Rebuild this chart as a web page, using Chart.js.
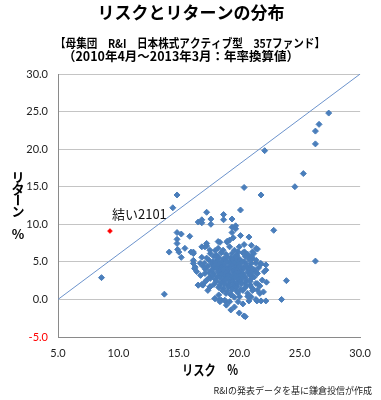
<!DOCTYPE html>
<html><head><meta charset="utf-8">
<script src="https://cdn.jsdelivr.net/npm/chart.js@4/dist/chart.umd.min.js"></script>
<style>html,body{margin:0;padding:0;background:#fff}#wrap{width:381px;height:400px;position:relative}</style>
</head><body><div id="wrap"><canvas id="c" width="381" height="400"></canvas></div>
<script>
const chartTitle = 'リスクとリターンの分布';
const subtitleLines = ['【母集団　R&I　日本株式アクティブ型　357ファンド】', '（2010年4月～2013年3月：年率換算値）'];
const xTitle = 'リスク　%';
const yTitleChars = ['リ', 'タ', 'ー', 'ン', '%'];
const sourceNote = 'R&Iの発表データを基に鎌倉投信が作成';
const yuiLabel = '結い2101';
const yuiRisk = [9.3];
const yuiReturn = [9.1];
const refLineRisk = [5, 30];
const refLineReturn = [0, 30];
const xTicks = [5, 10, 15, 20, 25, 30];
const yTicks = [-5, 0, 5, 10, 15, 20, 25, 30];

// [risk %, return %]
const fundOutliers = [
  [8.6,2.9],[13.8,0.7],[14.2,6.3],[14.5,12.2],[14.85,13.9],[14.85,8.9],[15.2,8.7],[14.85,8.0],
  [14.85,7.45],[14.9,6.65],[15.9,8.4],[15.5,6.8],[16.0,6.3],[16.2,6.3],[15.2,5.6],[15.0,6.3],
  [16.2,4.8],[16.3,4.1],[16.6,1.9],[16.9,2.0],[17.6,1.7],[18.0,0.1],[18.4,-0.3],[18.5,-0.1],
  [18.9,-0.3],[19.3,-1.4],[20.0,-1.8],[20.4,-2.2],[20.5,-2.3],[20.8,-0.2],[21.46,-0.2],[21.8,-0.2],
  [22.2,-0.2],[21.7,0.8],[21.1,1.2],[21.5,2.1],[22.25,2.3],[22.06,3.7],[21.1,3.0],[22.2,4.6],
  [21.8,4.7],[21.0,5.7],[21.2,6.1],[21.5,6.7],[23.9,2.5],[23.5,0.0],[26.3,5.1],[22.85,9.2],
  [20.1,11.9],[17.3,11.6],[18.7,11.3],[18.7,10.6],[19.4,10.7],[17.65,10.7],[16.9,10.6],[16.6,10.3],
  [16.9,10.2],[17.65,10.0],[19.4,9.6],[19.7,9.8],[19.4,8.9],[19.7,9.4],[20.1,8.5],[20.8,8.3],
  [20.4,7.3],[19.0,7.6],[18.4,7.6],[17.3,7.1],[16.9,7.0],[17.3,7.45],[20.4,14.9],[21.8,13.9],
  [22.1,19.8],[24.6,15.0],[25.3,16.75],[26.3,20.7],[26.3,22.4],[26.6,23.3],[27.4,24.8],
  [19.5,8.2],[19.2,7.9],[18.25,7.7],[19.0,7.75],[17.16,7.0],[17.57,6.55],[18.25,6.8],[18.66,6.55],
  [19.2,7.0],[19.6,6.55],[19.9,6.33],[20.43,6.33],[21.1,6.33],[21.4,6.8],
  [16.2,6.1],[16.2,5.2],[16.35,4.3],[16.76,4.8],[16.48,3.7],
  [21.1,5.45],[21.38,4.8],[21.78,4.8],[22.2,3.9],[21.5,3.46],[21.25,3.0],[21.9,2.57],[21.38,2.13],
  [21.1,1.46],[21.5,1.24],[21.38,0.0],[20.97,0.35],[20.7,0.8],
  [17.98,0.13],[18.39,-0.1],[18.8,-0.1],[19.2,-0.3],[19.33,0.57],[19.9,-0.3],[20.02,0.35],[19.6,-1.0],[18.93,-0.76],
  [16.6,1.9],[17.0,1.9],[17.57,1.68],[17.3,2.57],[17.57,3.0],[17.16,3.46],
  [16.9,5.6],[17.0,4.4],[16.8,3.2],[17.2,2.4],[17.4,1.2],[21.4,5.2],[21.6,4.2],[21.3,3.8],
  [21.7,1.8],[22.0,1.0],[20.9,1.9],[20.7,0.4],[19.6,0.3],[18.3,0.6],[20.3,-0.6],[20.0,7.0],
  [18.0,6.5],[21.0,7.2]
];
const fundCore = [
  [17.6,6.1],[18.1,5.9],[18.5,6.2],[18.9,6.0],[19.4,6.1],[19.8,5.9],[20.3,6.2],[20.7,6.0],
  [17.3,5.5],[17.9,5.7],[18.3,5.6],[18.7,5.4],[19.0,5.7],[19.3,5.5],[19.6,5.6],[20.0,5.4],[20.5,5.7],[20.9,5.5],
  [17.5,5.2],[17.8,5.0],[18.2,5.3],[18.6,5.1],[18.9,5.2],[19.2,5.0],[19.5,5.3],[19.8,5.1],[20.1,5.2],[20.4,5.0],[20.8,5.3],
  [17.1,4.8],[17.7,4.7],[18.0,4.9],[18.4,4.8],[18.7,4.6],[19.0,4.9],[19.3,4.7],[19.6,4.8],[19.9,4.6],[20.2,4.9],[20.6,4.7],[21.0,4.8],
  [17.4,4.4],[17.9,4.3],[18.2,4.5],[18.5,4.3],[18.8,4.4],[19.1,4.2],[19.4,4.5],[19.7,4.3],[20.0,4.4],[20.3,4.2],[20.6,4.4],[20.9,4.3],
  [17.2,4.0],[17.7,3.9],[18.1,4.1],[18.4,3.9],[18.7,4.0],[19.0,3.8],[19.2,4.1],[19.5,3.9],[19.8,4.0],[20.1,3.8],[20.4,4.1],[20.8,3.9],[21.2,4.0],
  [17.5,3.6],[17.9,3.5],[18.3,3.7],[18.6,3.5],[18.9,3.6],[19.2,3.4],[19.5,3.7],[19.7,3.5],[20.0,3.6],[20.3,3.4],[20.7,3.6],[21.0,3.5],
  [17.8,3.2],[18.2,3.1],[18.5,3.3],[18.8,3.1],[19.1,3.2],[19.4,3.0],[19.6,3.3],[19.9,3.1],[20.2,3.2],[20.5,3.0],[20.9,3.2],
  [17.6,2.8],[18.0,2.7],[18.4,2.9],[18.7,2.7],[19.0,2.8],[19.3,2.6],[19.6,2.9],[19.9,2.7],[20.2,2.8],[20.6,2.6],[21.0,2.8],
  [18.1,2.4],[18.5,2.3],[18.8,2.5],[19.2,2.3],[19.5,2.4],[19.8,2.2],[20.1,2.5],[20.5,2.3],[20.9,2.4],
  [17.9,2.0],[18.4,1.9],[18.8,2.1],[19.1,1.9],[19.5,2.0],[19.8,1.8],[20.2,2.1],[20.6,1.9],
  [18.3,1.6],[18.7,1.5],[19.1,1.7],[19.4,1.5],[19.7,1.6],[20.1,1.4],[20.5,1.6],
  [18.6,1.2],[19.0,1.1],[19.4,1.3],[19.8,1.1],[20.3,1.2],
  [18.9,0.8],[19.3,0.7],[19.9,0.9]
];

const CJK = '"Noto Sans CJK JP", sans-serif';
const toXY = (arr) => arr.map(p => ({x: p[0], y: p[1]}));

const textPlugin = {
  id: 'texts',
  afterDraw(chart) {
    const ctx = chart.ctx;
    ctx.save();
    ctx.fillStyle = '#000';
    ctx.textAlign = 'center';
    ctx.textBaseline = 'middle';
    ctx.font = 'bold 17px ' + CJK;
    ctx.fillText(chartTitle, 191, 13);
    ctx.font = 'bold 12px ' + CJK;
    ctx.fillText(subtitleLines[0], 190, 43, 270);
    ctx.font = 'bold 12.5px ' + CJK;
    ctx.fillText(subtitleLines[1], 181, 56, 236);
    // vertical y-axis title
    ctx.font = 'bold 13px ' + CJK;
    const ys = [177, 189, 200, 211, 234];
    yTitleChars.forEach((ch, i) => {
      if (ch === 'ー') {
        ctx.save();
        ctx.translate(18, ys[i]);
        ctx.rotate(Math.PI / 2);
        ctx.fillText(ch, 0, 0);
        ctx.restore();
      } else {
        ctx.fillText(ch, 18, ys[i]);
      }
    });
    ctx.font = 'bold 14px ' + CJK;
    ctx.fillText(xTitle, 210, 370, 56);
    ctx.font = '9px ' + CJK;
    ctx.textAlign = 'right';
    ctx.fillStyle = '#222';
    ctx.fillText(sourceNote, 372, 391);
    const pt = chart.getDatasetMeta(1).data[0];
    ctx.font = '13px ' + CJK;
    ctx.textAlign = 'left';
    ctx.fillStyle = '#111';
    ctx.fillText(yuiLabel, pt.x + 2, pt.y - 17);
    ctx.restore();
  }
};

new Chart(document.getElementById('c'), {
  type: 'scatter',
  data: {
    datasets: [
      {
        label: 'funds',
        data: toXY(fundOutliers.concat(fundCore)),
        pointStyle: 'rectRot',
        pointRadius: 3,
        borderWidth: 1,
        backgroundColor: '#4A7EBB',
        borderColor: '#4A7EBB',
        order: 2
      },
      {
        label: 'yui',
        data: yuiRisk.map((r, i) => ({x: r, y: yuiReturn[i]})),
        pointStyle: 'rectRot',
        pointRadius: 2.5,
        borderWidth: 0.5,
        backgroundColor: '#FF0000',
        borderColor: '#FF0000',
        order: 1
      },
      {
        label: 'line',
        data: refLineRisk.map((r, i) => ({x: r, y: refLineReturn[i]})),
        showLine: true,
        pointRadius: 0,
        borderColor: '#6C93CC',
        borderWidth: 1,
        order: 3
      }
    ]
  },
  options: {
    responsive: false,
    animation: false,
    events: [],
    layout: {padding: {top: 74, right: 17, bottom: 0, left: 0}},
    plugins: {legend: {display: false}, tooltip: {enabled: false}, title: {display: false}},
    scales: {
      x: {
        type: 'linear',
        min: xTicks[0], max: xTicks[xTicks.length - 1],
        afterBuildTicks: s => { s.ticks = xTicks.map(v => ({value: v})); },
        afterFit: s => { s.height = 63; },
        grid: {display: false, drawTicks: false},
        border: {display: true, color: '#8a8a8a', width: 1},
        ticks: {padding: 10, color: '#222', font: {family: 'Lato', size: 11}, callback: v => Number(v).toFixed(1), maxRotation: 0}
      },
      y: {
        type: 'linear',
        min: yTicks[0], max: yTicks[yTicks.length - 1],
        afterBuildTicks: s => { s.ticks = yTicks.map(v => ({value: v})); },
        afterFit: s => { s.width = 58; },
        grid: {color: '#c4c4c4', drawTicks: false, lineWidth: 1},
        border: {display: true, color: '#8a8a8a', width: 1},
        ticks: {padding: 10, font: {family: 'Lato', size: 11}, callback: v => Number(v).toFixed(1),
          color: c => (c.tick && c.tick.value < 0) ? '#FF0000' : '#222'}
      }
    }
  },
  plugins: [textPlugin]
});
</script>
</body></html>
